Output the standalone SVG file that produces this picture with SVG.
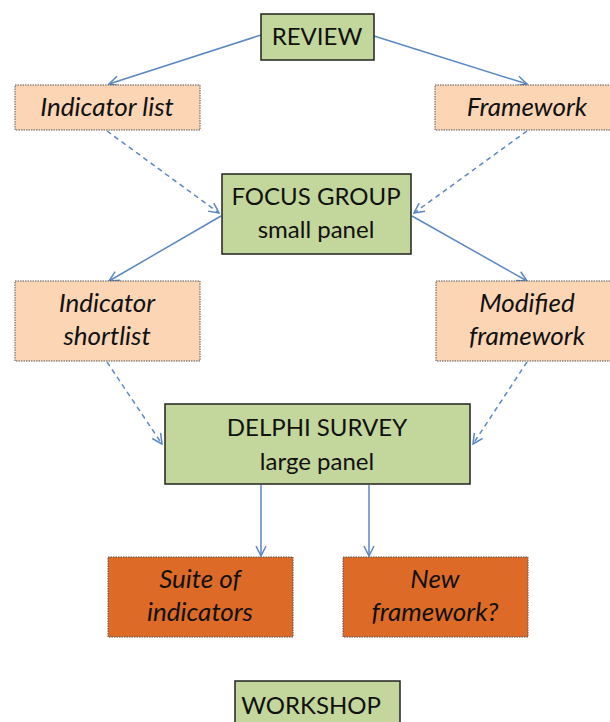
<svg xmlns="http://www.w3.org/2000/svg" width="610" height="722" viewBox="0 0 610 722">
<defs>
<style>
.g{fill:#c3d69b;stroke:#222;stroke-width:1.5}
.p{fill:#fcd5b5;stroke:#555;stroke-width:1;stroke-dasharray:1.5 1}
.o{fill:#dd6b27;stroke:#555;stroke-width:1;stroke-dasharray:1.5 1}
text{font-family:Lato,"Open Sans","Liberation Sans",sans-serif;font-size:24px;fill:#111;text-anchor:middle}
.i{font-style:italic;font-size:26px}
.c{stroke:#5b87c5;stroke-width:1.5;fill:none}
.d{stroke-dasharray:5 4}
</style>
<marker id="a" viewBox="0 0 12 12" refX="11" refY="6" markerWidth="12" markerHeight="12" markerUnits="userSpaceOnUse" orient="auto">
<path d="M1,1 L11,6 L1,11" fill="none" stroke="#5b87c5" stroke-width="1.5"/>
</marker>
</defs>
<g id="connectors">
<path class="c" d="M261,35 L109,84" marker-end="url(#a)"/>
<path class="c" d="M374,36 L527,84" marker-end="url(#a)"/>
<path class="c d" d="M107,131 L219,213" marker-end="url(#a)"/>
<path class="c d" d="M527,131 L414,213" marker-end="url(#a)"/>
<path class="c" d="M221,216 L109,281" marker-end="url(#a)"/>
<path class="c" d="M412,216 L527,281" marker-end="url(#a)"/>
<path class="c d" d="M107,362 L162,444" marker-end="url(#a)"/>
<path class="c d" d="M527,362 L473,444" marker-end="url(#a)"/>
<path class="c" d="M261,485 L261,556" marker-end="url(#a)"/>
<path class="c" d="M369,485 L369,556" marker-end="url(#a)"/>
</g>
<g id="review"><rect class="g" x="261" y="14" width="113" height="46"/><text x="317" y="45">REVIEW</text></g>
<g id="indicator-list"><rect class="p" x="15" y="85" width="185" height="45"/><text class="i" x="107" y="116">Indicator list</text></g>
<g id="framework"><rect class="p" x="435" y="85" width="180" height="45"/><text class="i" x="527" y="116">Framework</text></g>
<g id="focus-group"><rect class="g" x="222" y="174" width="189" height="80"/><text x="316" y="205">FOCUS GROUP</text><text x="316" y="238">small panel</text></g>
<g id="indicator-shortlist"><rect class="p" x="15" y="281" width="185" height="80"/><text class="i" x="107" y="312">Indicator</text><text class="i" x="107" y="345">shortlist</text></g>
<g id="modified-framework"><rect class="p" x="436" y="281" width="180" height="80"/><text class="i" x="527" y="312">Modified</text><text class="i" x="527" y="345">framework</text></g>
<g id="delphi-survey"><rect class="g" x="165" y="404" width="305" height="80"/><text x="317" y="436">DELPHI SURVEY</text><text x="317" y="470">large panel</text></g>
<g id="suite-of-indicators"><rect class="o" x="108" y="557" width="185" height="80"/><text class="i" x="200" y="588">Suite of</text><text class="i" x="200" y="621">indicators</text></g>
<g id="new-framework"><rect class="o" x="343" y="557" width="185" height="80"/><text class="i" x="435" y="588">New</text><text class="i" x="435" y="621">framework?</text></g>
<g id="workshop"><rect class="g" x="235" y="681" width="165" height="50"/><text x="311" y="714">WORKSHOP</text></g>
</svg>
